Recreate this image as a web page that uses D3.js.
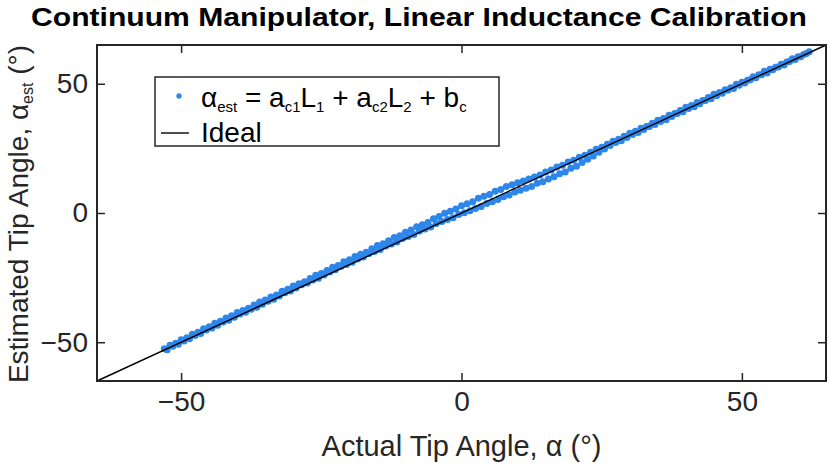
<!DOCTYPE html>
<html>
<head>
<meta charset="utf-8">
<script src="https://cdn.jsdelivr.net/npm/d3@7"></script>
<style>
  html, body { margin: 0; padding: 0; background: #fff; }
  svg { display: block; font-family: 'Liberation Sans', Arial, sans-serif; }
  .axis text { font-size: 28px; fill: #262626; }
  .axis line { stroke: #262626; stroke-width: 1.5; }
</style>
</head>
<body>
<div id="chart"></div>
<script>
const WIDTH = 829
const HEIGHT = 472
const MARGIN = {top: 45, right: 3, bottom: 91, left: 97}
const DOT_COLOR = '#2d86ea'
const AXIS_COLOR = '#262626'

// axis ranges and ticks
const X_DOMAIN = [-65, 65]
const Y_DOMAIN = [-65, 65]
const TICKS = [-50, 0, 50]

// ideal line end points
const IDEAL = [[-65, -65], [65, 65]]

// strand 1: actual angle (deg) and offset of estimate from actual (deg)
const upperAngle = [
  -53, -52, -51, -50, -49, -48, -47, -46, -45, -44,
  -43, -42, -41, -40, -39, -38, -37, -36, -35, -34,
  -33, -32, -31, -30, -29, -28, -27, -26, -25, -24,
  -23, -22, -21, -20, -19, -18, -17, -16, -15, -14,
  -13, -12, -11, -10, -9, -8, -7, -6, -5, -4,
  -3, -2, -1, 0, 1, 2, 3, 4, 5, 6,
  7, 8, 9, 10, 11, 12, 13, 14, 15, 16,
  17, 18, 19, 20, 21, 22, 23, 24, 25, 26,
  27, 28, 29, 30, 31, 32, 33, 34, 35, 36,
  37, 38, 39, 40, 41, 42, 43, 44, 45, 46,
  47, 48, 49, 50, 51, 52, 53, 54, 55, 56,
  57, 58, 59, 60, 61, 62
]
const upperOffset = [
  0.5, 0.8, 0.6, 1.0, 0.7, 1.1, 0.9, 1.2, 1.0, 1.3,
  1.1, 1.4, 1.2, 1.5, 1.3, 1.1, 1.4, 1.6, 1.3, 1.5,
  1.3, 1.7, 1.5, 1.8, 1.6, 1.4, 1.7, 1.9, 1.6, 1.8,
  2.0, 1.7, 2.1, 1.9, 2.2, 2.0, 1.8, 2.2, 2.4, 2.1,
  2.3, 2.5, 2.2, 2.6, 2.4, 2.7, 2.5, 2.3, 2.8, 2.6,
  2.9, 2.7, 2.5, 2.8, 2.6, 2.4, 2.7, 2.5, 2.2, 2.4,
  2.1, 2.3, 1.9, 1.7, 1.4, 1.2, 0.9, 0.7, 0.9, 0.6,
  0.8, 0.5, 0.7, 0.4, 0.6, 0.3, 0.5, 0.7, 0.4, 0.6,
  0.8, 0.5, 0.7, 0.9, 0.6, 0.8, 0.5, 0.7, 0.9, 0.6,
  0.8, 0.5, 0.7, 0.9, 0.6, 0.8, 0.5, 0.7, 0.9, 0.6,
  0.7, 0.5, 0.8, 0.6, 0.4, 0.7, 0.5, 0.8, 0.6, 0.4,
  0.6, 0.4, 0.7, 0.5, 0.3, 0.4
]

// strand 2
const lowerAngle = [
  -52.5, -51.5, -50.5, -49.5, -48.5, -47.5, -46.5, -45.5, -44.5, -43.5,
  -42.5, -41.5, -40.5, -39.5, -38.5, -37.5, -36.5, -35.5, -34.5, -33.5,
  -32.5, -31.5, -30.5, -29.5, -28.5, -27.5, -26.5, -25.5, -24.5, -23.5,
  -22.5, -21.5, -20.5, -19.5, -18.5, -17.5, -16.5, -15.5, -14.5, -13.5,
  -12.5, -11.5, -10.5, -9.5, -8.5, -7.5, -6.5, -5.5, -4.5, -3.5,
  -2.5, -1.5, -0.5, 0.5, 1.5, 2.5, 3.5, 4.5, 5.5, 6.5,
  7.5, 8.5, 9.5, 10.5, 11.5, 12.5, 13.5, 14.5, 15.5, 16.5,
  17.5, 18.5, 19.5, 20.5, 21.5, 22.5, 23.5, 24.5, 25.5, 26.5,
  27.5, 28.5, 29.5, 30.5, 31.5, 32.5, 33.5, 34.5, 35.5, 36.5,
  37.5, 38.5, 39.5, 40.5, 41.5, 42.5, 43.5, 44.5, 45.5, 46.5,
  47.5, 48.5, 49.5, 50.5, 51.5, 52.5, 53.5, 54.5, 55.5, 56.5,
  57.5, 58.5, 59.5, 60.5, 61.5
]
const lowerOffset = [
  -0.4, -0.1, -0.3, 0.0, -0.2, 0.1, -0.1, 0.2, 0.0, 0.1,
  0.3, 0.0, 0.2, 0.4, 0.1, 0.3, 0.0, 0.2, 0.4, 0.1,
  0.4, 0.6, 0.3, 0.5, 0.7, 0.4, 0.6, 0.3, 0.5, 0.7,
  0.5, 0.8, 0.6, 0.4, 0.7, 0.5, 0.8, 0.6, 0.4, 0.7,
  0.5, 0.3, 0.6, 0.4, 0.2, 0.5, 0.3, 0.1, 0.4, 0.2,
  0.0, -0.3, -0.1, -0.4, -0.6, -0.8, -1.0, -0.8, -1.1, -1.3,
  -1.2, -1.5, -1.4, -1.7, -1.9, -2.2, -2.0, -2.4, -2.3, -2.5,
  -2.3, -2.6, -2.2, -2.4, -2.0, -1.7, -1.4, -1.0, -0.7, -0.4,
  -0.2, -0.5, -0.3, -0.1, -0.4, -0.2, 0.0, -0.3, -0.1, -0.4,
  -0.2, 0.0, -0.3, -0.1, -0.4, -0.2, 0.0, -0.3, -0.1, -0.2,
  0.0, -0.3, -0.1, -0.2, 0.1, -0.2, 0.0, -0.3, -0.1, 0.0,
  -0.2, 0.1, -0.1, 0.0, 0.2
]

var innerW = WIDTH - MARGIN.left - MARGIN.right
var innerH = HEIGHT - MARGIN.top - MARGIN.bottom

var svg = d3.select('#chart').append('svg')
  .attr('width', WIDTH)
  .attr('height', HEIGHT)

var g = svg.append('g').attr('transform', `translate(${MARGIN.left}, ${MARGIN.top})`)

var x = d3.scaleLinear().domain(X_DOMAIN).range([0, innerW])
var y = d3.scaleLinear().domain(Y_DOMAIN).range([innerH, 0])

// 合并两条散点带
var points = upperAngle.map((a, i) => ({a: a, est: a + upperOffset[i]}))
  .concat(lowerAngle.map((a, i) => ({a: a, est: a + lowerOffset[i]})))

g.append('g').attr('class', 'dots')
  .selectAll('circle')
  .data(points)
  .enter().append('circle')
  .attr('cx', d => x(d.a))
  .attr('cy', d => y(d.est))
  .attr('r', 3.5)
  .attr('fill', DOT_COLOR)

// ideal line
var line = d3.line().x(d => x(d[0])).y(d => y(d[1]))
g.append('path')
  .datum(IDEAL)
  .attr('d', line)
  .attr('fill', 'none')
  .attr('stroke', '#000')
  .attr('stroke-width', 1.4)

// axes, ticks pointing inward on all four sides
g.append('g').attr('class', 'axis')
  .attr('transform', `translate(0, ${innerH})`)
  .call(d3.axisBottom(x).tickValues(TICKS).tickSizeInner(-8).tickSizeOuter(0).tickPadding(10))
g.append('g').attr('class', 'axis')
  .call(d3.axisLeft(y).tickValues(TICKS).tickSizeInner(-8).tickSizeOuter(0).tickPadding(9))
g.append('g').attr('class', 'axis')
  .call(d3.axisTop(x).tickValues(TICKS).tickSizeInner(-8).tickSizeOuter(0).tickFormat(''))
g.append('g').attr('class', 'axis')
  .attr('transform', `translate(${innerW}, 0)`)
  .call(d3.axisRight(y).tickValues(TICKS).tickSizeInner(-8).tickSizeOuter(0).tickFormat(''))
g.selectAll('.axis .domain').remove()

g.append('rect')
  .attr('width', innerW)
  .attr('height', innerH)
  .attr('fill', 'none')
  .attr('stroke', AXIS_COLOR)
  .attr('stroke-width', 2)

// title
svg.append('text')
  .attr('x', 419)
  .attr('y', 26)
  .attr('text-anchor', 'middle')
  .attr('font-weight', 'bold')
  .attr('font-size', 26)
  .attr('textLength', 776)
  .attr('lengthAdjust', 'spacingAndGlyphs')
  .attr('fill', '#000')
  .text('Continuum Manipulator, Linear Inductance Calibration')

// x label
svg.append('text')
  .attr('x', MARGIN.left + innerW / 2)
  .attr('y', 456)
  .attr('text-anchor', 'middle')
  .attr('font-size', 29)
  .attr('fill', AXIS_COLOR)
  .text('Actual Tip Angle, α (°)')

// y label
var yl = svg.append('text')
  .attr('transform', `translate(28, 214) rotate(-90)`)
  .attr('text-anchor', 'middle')
  .attr('font-size', 28)
  .attr('fill', AXIS_COLOR)
yl.append('tspan').text('Estimated Tip Angle, α')
yl.append('tspan').attr('font-size', 16).attr('dy', 5).text('est')
yl.append('tspan').attr('dy', -5).text(' (°)')

// legend
var legend = svg.append('g').attr('transform', 'translate(155, 77)')
legend.append('rect')
  .attr('width', 344)
  .attr('height', 69)
  .attr('fill', '#fff')
  .attr('stroke', AXIS_COLOR)
  .attr('stroke-width', 1.5)

legend.append('circle').attr('cx', 24).attr('cy', 19).attr('r', 2.7).attr('fill', DOT_COLOR)
var eq = legend.append('text').attr('x', 46).attr('y', 30).attr('font-size', 28).attr('fill', '#000')
var parts = [
  ['α', 0], ['est', 1], [' = a', 0], ['c1', 1], ['L', 0], ['1', 1],
  [' + a', 0], ['c2', 1], ['L', 0], ['2', 1], [' + b', 0], ['c', 1]
]
var prevSub = 0
parts.forEach(([t, sub]) => {
  var shift = (sub - prevSub) * 5
  eq.append('tspan')
    .attr('font-size', sub ? 15 : 28)
    .attr('dy', shift)
    .text(t)
  prevSub = sub
})

legend.append('line')
  .attr('x1', 6).attr('x2', 34)
  .attr('y1', 56).attr('y2', 56)
  .attr('stroke', '#000').attr('stroke-width', 1.4)
legend.append('text').attr('x', 46).attr('y', 65).attr('font-size', 28).attr('fill', '#000').text('Ideal')
</script>
</body>
</html>
